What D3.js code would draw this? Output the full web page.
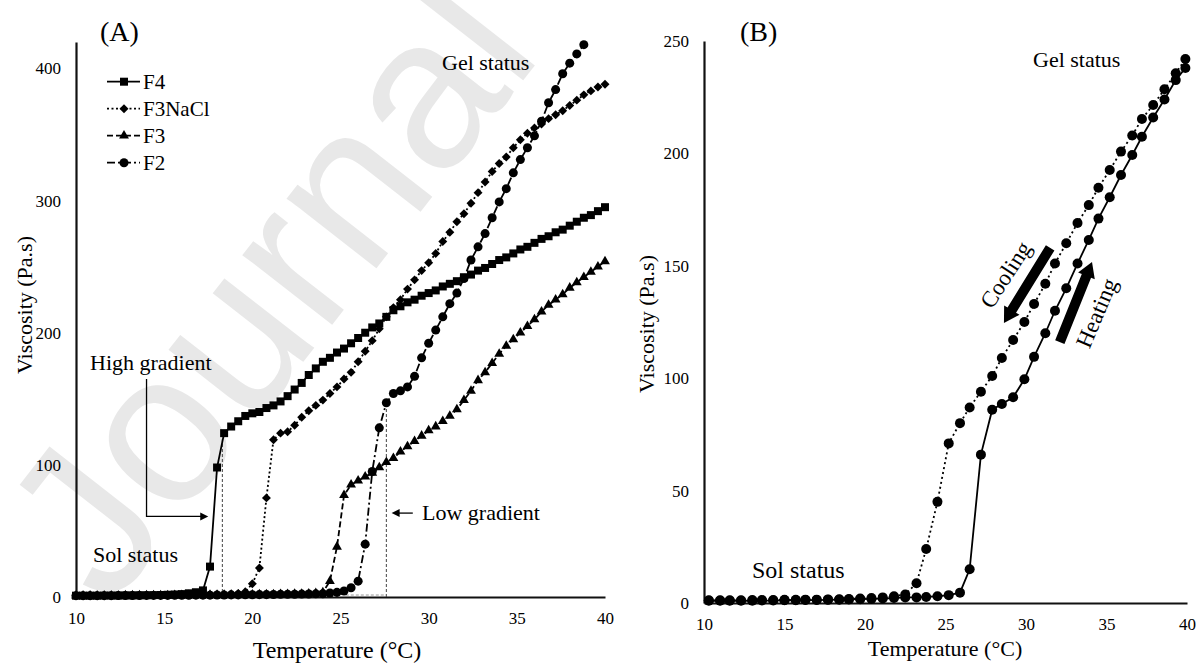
<!DOCTYPE html>
<html>
<head>
<meta charset="utf-8">
<script src="https://cdn.jsdelivr.net/npm/d3@7"></script>
<style>
  body { margin: 0; background: #fff; }
  text { font-family: "Liberation Serif", "Times New Roman", serif; fill: #000; }
</style>
</head>
<body>
<svg id="chart" width="1200" height="666"></svg>
<script>
// ---- panel A data (temperature grid, viscosity Pa.s) ----
const tempA = [10.0, 10.4, 10.8, 11.2, 11.6, 12.0, 12.4, 12.8, 13.2, 13.6, 14.0, 14.4, 14.8, 15.2, 15.6, 16.0, 16.4, 16.8, 17.2,
  17.6, 18.0, 18.4, 18.8, 19.2, 19.6, 20.0, 20.4, 20.8, 21.2, 21.6, 22.0, 22.4, 22.8, 23.2, 23.6, 24.0, 24.4, 24.8, 25.2, 25.6,
  26.0, 26.4, 26.8, 27.2, 27.6, 28.0, 28.4, 28.8, 29.2, 29.6, 30.0, 30.4, 30.8, 31.2, 31.6, 32.0, 32.4, 32.8, 33.2, 33.6,
  34.0, 34.4, 34.8, 35.2, 35.6, 36.0, 36.4, 36.8, 37.2, 37.6, 38.0, 38.4, 38.8, 39.2, 39.6, 40.0];

const f4 = [1.0, 1.0, 1.0, 1.0, 1.1, 1.1, 1.1, 1.2, 1.2, 1.3, 1.3, 1.4, 1.5, 1.7, 1.9, 2.2, 2.8, 3.6, 5.0,
  23, 98, 124, 129, 133, 137, 139, 140, 143, 145, 148, 152, 157, 162, 168, 173, 178, 181, 185, 188, 192,
  196, 200, 204, 207, 212, 217, 220, 223, 225, 228, 230, 232, 235, 237, 239, 242, 244, 247, 249, 252,
  255, 257, 260, 263, 265, 268, 271, 273, 276, 278, 281, 284, 287, 289, 292, 295];

const f3NaCl = [1.0, 1.0, 1.0, 1.0, 1.0, 1.1, 1.1, 1.1, 1.2, 1.2, 1.2, 1.3, 1.3, 1.4, 1.4, 1.5, 1.5, 1.6, 1.7, 1.8, 1.9, 2.0, 2.2, 2.6,
  4, 10, 22, 75, 119, 124, 125, 130, 136, 141, 145, 149, 154, 159, 165, 170, 178, 186, 194, 203,
  212, 219, 225, 233, 240, 247, 253, 260, 269, 276, 284, 290, 298, 306, 314, 322, 328, 333, 340, 346,
  351, 355, 358, 362, 365, 368, 372, 376, 380, 383, 386, 388];

const f3 = [1.0, 1.0, 1.0, 1.0, 1.0, 1.0, 1.0, 1.1, 1.1, 1.1, 1.1, 1.2, 1.2, 1.2, 1.3, 1.3, 1.3, 1.4, 1.4, 1.5, 1.5, 1.6, 1.6,
  1.7, 1.7, 1.8, 1.9, 2.0, 2.0, 2.1, 2.2, 2.3, 2.4, 2.6, 2.8,
  3.5, 12, 38, 77, 85, 88, 91, 94, 98, 102, 105, 110, 114, 118, 122, 126, 129, 133, 137, 142,
  149, 156, 164, 170, 177, 184, 190, 195, 200, 205, 210, 216, 221, 225, 229, 234, 238, 242, 246, 250, 254];

const f2 = [1.0, 1.0, 1.0, 1.0, 1.0, 1.0, 1.1, 1.1, 1.1, 1.1, 1.2, 1.2, 1.2, 1.2, 1.3, 1.3, 1.3, 1.4, 1.4, 1.4, 1.5, 1.5,
  1.6, 1.6, 1.7, 1.7, 1.8, 1.8, 1.9, 2.0, 2.0, 2.1, 2.2, 2.3, 2.4, 2.5,
  3.0, 3.5, 4.5, 7, 12, 40, 95, 128, 147, 154, 156, 159, 167, 181, 192, 202, 212, 222, 230, 241,
  255, 265, 275, 287, 299, 309, 321, 331, 340, 349, 360, 374, 384, 396, 404, 411, 418, null, null, null];

// ---- panel B data ----
const tempB = [10.3, 11.0, 11.6, 12.3, 13.0, 13.6, 14.3, 15.0, 15.7, 16.3, 17.0, 17.7, 18.4, 19.0, 19.7, 20.4, 21.1, 21.8,
  22.5, 23.2, 23.8, 24.5, 25.2, 25.9, 26.5, 27.2, 27.9, 28.5, 29.2, 29.9, 30.5, 31.2, 31.8, 32.5, 33.2, 33.9,
  34.5, 35.2, 35.9, 36.6, 37.2, 37.9, 38.6, 39.3, 39.9];

const heating = [1.0, 1.0, 1.0, 1.0, 1.0, 1.1, 1.1, 1.2, 1.2, 1.3, 1.3, 1.4, 1.5, 1.6, 1.7, 1.8, 2.0, 2.2,
  2.5, 2.5, 2.7, 3.0, 3.5, 4.6, 15, 66, 86, 88.5, 91.5, 99.5, 109.5, 120, 130, 140, 151, 161.5,
  171, 180.5, 190.4, 199.3, 207.4, 216, 224, 232.6, 238];

const cooling = [1.2, 1.2, 1.2, 1.2, 1.3, 1.3, 1.3, 1.4, 1.4, 1.5, 1.5, 1.6, 1.7, 1.8, 2.0, 2.2, 2.5, 3.0,
  3.8, 8.8, 24, 45, 71, 80, 87, 94, 101, 109, 117, 125, 133, 142, 151, 160, 169, 177,
  184.7, 192.6, 200.8, 208, 215.3, 221.5, 228.5, 235.6, 242];

const xTicks = [10, 15, 20, 25, 30, 35, 40];
const yTicksA = [0, 100, 200, 300, 400];
const yTicksB = [0, 50, 100, 150, 200, 250];

const svg = d3.select("#chart");
const serif = '"Liberation Serif", "Times New Roman", serif';

// watermark behind panel A (runs off the top edge, as in the source)
svg.append("text")
  .attr("transform", "translate(268,286) rotate(-52)")
  .attr("text-anchor", "middle")
  .attr("dominant-baseline", "central")
  .style("font-family", '"Liberation Sans", Arial, sans-serif')
  .style("font-size", "215px")
  .style("fill", "#e8e8e8")
  .text("Journal");

// ---------------- panel A ----------------
const xA = d3.scaleLinear().domain([10, 40]).range([76, 605]);
const yA = d3.scaleLinear().domain([0, 420]).range([597, 42]);
const gA = svg.append("g");

function styleAxis(g) {
  g.attr("font-family", serif).attr("font-size", 17);
  g.select(".domain").attr("stroke", "#111").attr("stroke-width", 2.2);
}

gA.append("g").attr("transform", `translate(0,${yA(0)})`)
  .call(d3.axisBottom(xA).tickValues(xTicks).tickSize(0).tickPadding(15))
  .call(styleAxis);
gA.append("g").attr("transform", `translate(${xA(10)},0)`)
  .call(d3.axisLeft(yA).tickValues(yTicksA).tickSize(0).tickPadding(15))
  .call(styleAxis);

// guide lines for the gradients
const guideA = gA.append("g").attr("fill", "none").attr("stroke", "#444").attr("stroke-width", 1).attr("stroke-dasharray", "3,2");
guideA.append("line").attr("x1", xA(18.3)).attr("x2", xA(18.3)).attr("y1", yA(0)).attr("y2", yA(124));
guideA.append("line").attr("x1", xA(27.6)).attr("x2", xA(27.6)).attr("y1", yA(0)).attr("y2", yA(148));
guideA.append("line").attr("x1", xA(25.3)).attr("x2", xA(27.6)).attr("y1", yA(1.5)).attr("y2", yA(1.5)).attr("stroke", "#999");

const seriesA = [
  { name: "F4", values: f4, symbol: d3.symbolSquare, size: 64, rot: 0, dash: null },
  { name: "F3NaCl", values: f3NaCl, symbol: d3.symbolSquare, size: 40, rot: 45, dash: "2,2.5" },
  { name: "F3", values: f3, symbol: d3.symbolTriangle, size: 42, rot: 0, dash: "6,3" },
  { name: "F2", values: f2, symbol: d3.symbolCircle, size: 64, rot: 0, dash: "8,3,2,3" }
];

const lineA = d3.line().defined(d => d[1] != null).x(d => xA(d[0])).y(d => yA(d[1]));

seriesA.forEach(s => {
  const pts = tempA.map((t, i) => [t, s.values[i]]);
  gA.append("path").datum(pts)
    .attr("d", lineA)
    .attr("fill", "none").attr("stroke", "#000").attr("stroke-width", 1.8)
    .attr("stroke-dasharray", s.dash);
  gA.append("g").selectAll("path")
    .data(pts.filter(d => d[1] != null))
    .enter().append("path")
    .attr("d", d3.symbol().type(s.symbol).size(s.size))
    .attr("transform", d => `translate(${xA(d[0])},${yA(d[1])}) rotate(${s.rot})`)
    .attr("fill", "#000");
});

// legend
const legend = gA.append("g");
seriesA.forEach((s, i) => {
  const y = 81.7 + i * 27;
  legend.append("line").attr("x1", 107).attr("x2", 140).attr("y1", y).attr("y2", y)
    .attr("stroke", "#000").attr("stroke-width", 1.8).attr("stroke-dasharray", s.dash);
  legend.append("path").attr("d", d3.symbol().type(s.symbol).size(s.size))
    .attr("transform", `translate(124,${y}) rotate(${s.rot})`).attr("fill", "#000");
  legend.append("text").attr("x", 143).attr("y", y + 7).style("font-size", "21px").text(s.name);
});

// annotations
const arrowHead = (g, x, y, dir) => {
  g.append("path")
    .attr("d", `M${x},${y} l${-8 * dir},-4 l0,8 Z`)
    .attr("fill", "#000");
};
gA.append("path")
  .attr("d", `M${xA(14.0)},${yA(165)} V${yA(61)} H${xA(17.3)}`)
  .attr("fill", "none").attr("stroke", "#000").attr("stroke-width", 1.3);
arrowHead(gA, xA(17.5), yA(61), 1);
gA.append("line").attr("x1", xA(29.1)).attr("x2", xA(28.1)).attr("y1", yA(63.5)).attr("y2", yA(63.5))
  .attr("stroke", "#000").attr("stroke-width", 1.3);
arrowHead(gA, xA(27.9), yA(63.5), -1);

gA.append("text").attr("x", 90).attr("y", 370).style("font-size", "22px").text("High gradient");
gA.append("text").attr("x", 422).attr("y", 520).style("font-size", "22px").text("Low gradient");
gA.append("text").attr("x", 442).attr("y", 70).style("font-size", "22px").text("Gel status");
gA.append("text").attr("x", 93).attr("y", 562).style("font-size", "22px").text("Sol status");
gA.append("text").attr("x", 100).attr("y", 41).style("font-size", "28px").text("(A)");
gA.append("text").attr("x", 337).attr("y", 658).attr("text-anchor", "middle").style("font-size", "24px").text("Temperature (°C)");
gA.append("text").attr("transform", "translate(24,305) rotate(-90)").attr("text-anchor", "middle")
  .attr("dominant-baseline", "central").style("font-size", "22px").text("Viscosity (Pa.s)");

// ---------------- panel B ----------------
const xB = d3.scaleLinear().domain([10, 40]).range([704, 1187]);
const yB = d3.scaleLinear().domain([0, 250]).range([603, 41]);
const gB = svg.append("g");

gB.append("g").attr("transform", `translate(0,${yB(0)})`)
  .call(d3.axisBottom(xB).tickValues(xTicks).tickSize(0).tickPadding(15))
  .call(styleAxis);
gB.append("g").attr("transform", `translate(${xB(10)},0)`)
  .call(d3.axisLeft(yB).tickValues(yTicksB).tickSize(0).tickPadding(15))
  .call(styleAxis);

const lineB = d3.line().x(d => xB(d[0])).y(d => yB(d[1]));
const seriesB = [
  { name: "Cooling", values: cooling, dash: "2,3" },
  { name: "Heating", values: heating, dash: null }
];
seriesB.forEach(s => {
  const pts = tempB.map((t, i) => [t, s.values[i]]);
  gB.append("path").datum(pts).attr("d", lineB)
    .attr("fill", "none").attr("stroke", "#000").attr("stroke-width", 1.8)
    .attr("stroke-dasharray", s.dash);
  gB.append("g").selectAll("circle").data(pts).enter().append("circle")
    .attr("cx", d => xB(d[0])).attr("cy", d => yB(d[1])).attr("r", 5).attr("fill", "#000");
});

// big direction arrows
function bigArrow(g, x1, y1, x2, y2) {
  const dx = x2 - x1, dy = y2 - y1, len = Math.hypot(dx, dy);
  const ux = dx / len, uy = dy / len, px = -uy, py = ux;
  const w = 5, hw = 9, hl = 15;
  const bx = x2 - ux * hl, by = y2 - uy * hl;
  const p = [
    [x1 + px * w, y1 + py * w], [bx + px * w, by + py * w], [bx + px * hw, by + py * hw], [x2, y2],
    [bx - px * hw, by - py * hw], [bx - px * w, by - py * w], [x1 - px * w, y1 - py * w]
  ];
  g.append("path").attr("d", "M" + p.map(q => q.join(",")).join("L") + "Z").attr("fill", "#000");
}
bigArrow(gB, xB(31.5), yB(158), xB(28.63), yB(124.6));
bigArrow(gB, xB(32.1), yB(116), xB(34.1), yB(151.7));

gB.append("text").attr("transform", `translate(${xB(28.75)},${yB(146)}) rotate(-57)`)
  .attr("text-anchor", "middle").attr("dominant-baseline", "central").style("font-size", "23px").text("Cooling");
gB.append("text").attr("transform", `translate(${xB(34.4)},${yB(129)}) rotate(-67)`)
  .attr("text-anchor", "middle").attr("dominant-baseline", "central").style("font-size", "23px").text("Heating");

gB.append("text").attr("x", 1033).attr("y", 67).style("font-size", "22px").text("Gel status");
gB.append("text").attr("x", 752).attr("y", 578).style("font-size", "24px").text("Sol status");
gB.append("text").attr("x", 740).attr("y", 41).style("font-size", "28px").text("(B)");
gB.append("text").attr("x", 945).attr("y", 656).attr("text-anchor", "middle").style("font-size", "22px").text("Temperature (°C)");
gB.append("text").attr("transform", "translate(646,324) rotate(-90)").attr("text-anchor", "middle")
  .attr("dominant-baseline", "central").style("font-size", "22px").text("Viscosity (Pa.s)");
</script>
</body>
</html>
